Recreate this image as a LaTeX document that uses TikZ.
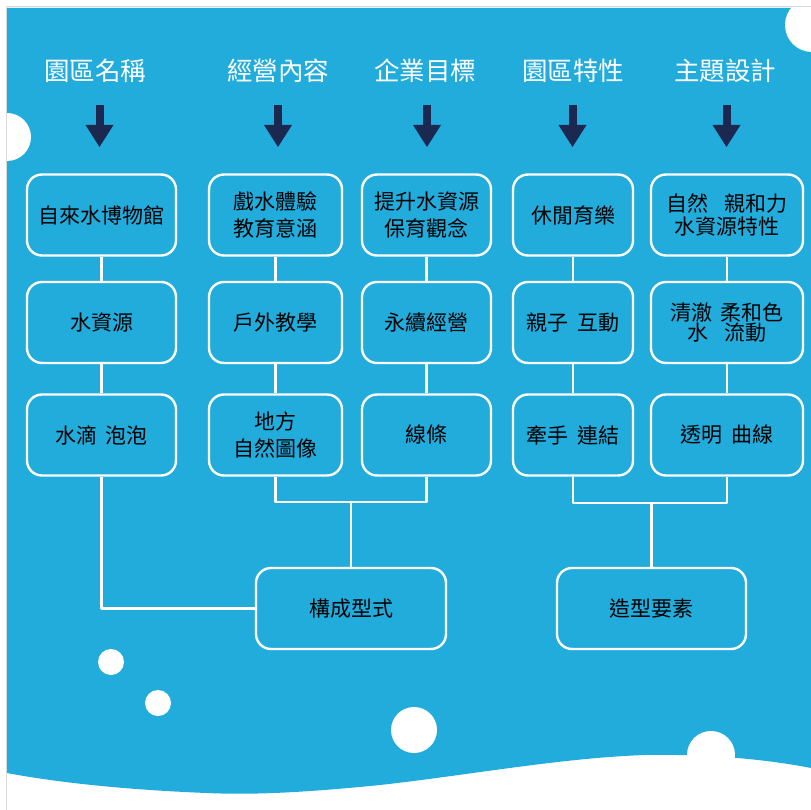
\documentclass[tikz,border=0pt]{standalone}
\usepackage{fontspec}
\newfontfamily\cjk{Noto Sans CJK TC}
\definecolor{water}{RGB}{34,172,220}
\definecolor{navy}{RGB}{27,41,80}
\newcommand\kong{\hspace{.4em}}
\tikzset{
	box/.style={draw=white,line width=2.4pt,rounded corners=15pt,fill=water,align=center,inner sep=0pt,minimum height=81pt,font=\cjk\fontsize{21}{27}\selectfont},
	head/.style={text=white,font=\cjk\fontsize{25.5}{28}\selectfont},
	link/.style={draw=white,line width=2.4pt},
}
\begin{document}
\begin{tikzpicture}[x=1pt,y=-1pt,line join=round,line cap=butt]
	\useasboundingbox (0,0) rectangle (811,810);
	
	\fill[white] (0,0) rectangle (811,810);
	\fill[water] (7,8) -- (811,8) -- (811,768) .. controls (760,758) and (700,754) .. (645,755) .. controls (560,758) and (470,775) .. (380,785) .. controls (300,793) and (250,795) .. (207,793) .. controls (130,790) and (60,783) .. (7,773) -- cycle;
	\fill[white] (7,137) circle (24) (812,25) circle (27) (111,662) circle (13) (158,703) circle (13) (414,730) circle (23) (711,755) circle (24);
	\draw[black!15,line width=1pt] (6,810) -- (6,7) -- (811,7);
	
	\node[head] (h1) at (95,71) {園區名稱};
	\node[head] (h2) at (278,71) {經營內容};
	\node[head] (h3) at (425,71) {企業目標};
	\node[head] (h4) at (573,71) {園區特性};
	\node[head] (h5) at (725,71) {主題設計};
	\foreach \x in {99.5,278,427,572.5,726.5}{
		\fill[navy] (\x-4,105) rectangle (\x+4,125);
		\fill[navy] (\x-14,125) -- (\x+14,125) -- (\x,147) -- cycle;
	}
	
	\node[box,minimum width=149pt] (a1) at (101.5,215) {自來水博物館};
	\node[box,minimum width=149pt] (a2) at (101.5,322.5) {水資源};
	\node[box,minimum width=149pt] (a3) at (101.5,435) {水滴\kong 泡泡};
	\node[box,minimum width=133pt] (b1) at (275.5,215) {戲水體驗\\教育意涵};
	\node[box,minimum width=133pt] (b2) at (275.5,322.5) {戶外教學};
	\node[box,minimum width=133pt] (b3) at (275.5,435) {地方\\自然圖像};
	\node[box,minimum width=129pt] (c1) at (426.5,215) {提升水資源\\保育觀念};
	\node[box,minimum width=129pt] (c2) at (426.5,322.5) {永續經營};
	\node[box,minimum width=129pt] (c3) at (426.5,435) {線條};
	\node[box,minimum width=120pt] (d1) at (573,215) {休閒育樂};
	\node[box,minimum width=120pt] (d2) at (573,322.5) {親子\kong 互動};
	\node[box,minimum width=120pt] (d3) at (573,435) {牽手\kong 連結};
	\node[box,minimum width=152pt] (e1) at (727,215) {自然\kong\kong 親和力\\[-4pt]水資源特性};
	\node[box,minimum width=152pt] (e2) at (727,322.5) {清澈\kong 柔和色\\[-7pt]水\kong\kong 流動};
	\node[box,minimum width=152pt] (e3) at (727,435) {透明\kong 曲線};
	
	\node[box,minimum width=190pt] (form) at (351,608.5) {構成型式};
	\node[box,minimum width=189pt] (shape) at (651.5,608.5) {造型要素};
	\coordinate (m1) at (351,502);
	\coordinate (m2) at (651.5,503);
	
	\foreach \c in {a,b,c,d,e}
		\draw[link] (\c1) -- (\c2) (\c2) -- (\c3);
	\draw[link] (a3.south) |- (form.west);
	\draw[link] (b3.south) |- (m1) -| (c3.south);
	\draw[link] (m1) -- (form.north);
	\draw[link] (d3.south) |- (m2) -| (e3.south);
	\draw[link] (m2) -- (shape.north);
\end{tikzpicture}
\end{document}
